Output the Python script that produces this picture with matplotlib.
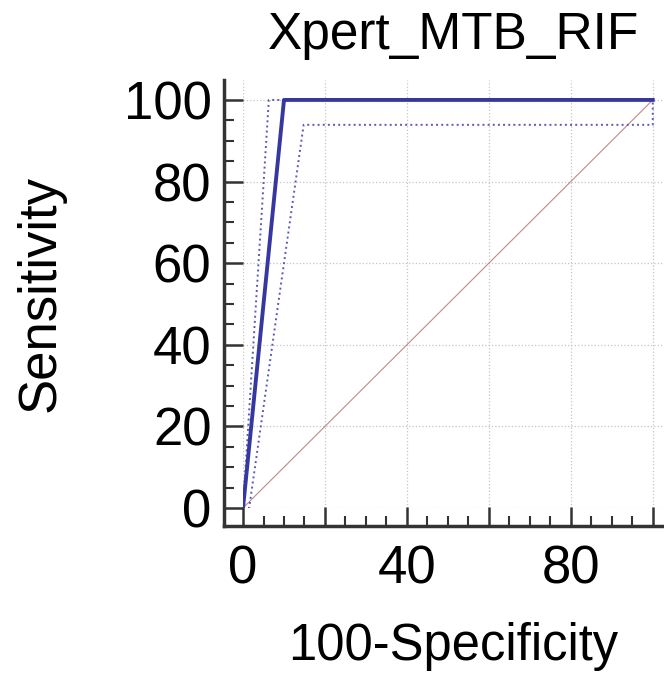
import matplotlib.pyplot as plt
from matplotlib.ticker import MultipleLocator

plt.rcParams['font.family'] = ['Liberation Sans', 'DejaVu Sans']

# ROC curve and confidence bounds (100-Specificity, Sensitivity)
roc_x = [0, 10, 100]
roc_y = [0, 100, 100]
upper_x = [0, 6.3, 100]
upper_y = [0, 100, 100]
lower_x = [0, 1.5, 14.8, 100, 100]
lower_y = [0, 0, 93.9, 93.9, 100]
diag = [0, 100]

fig = plt.figure(figsize=(6.64, 6.73), dpi=100)
ax = fig.add_axes([0.366, 0.2452, 0.6325, 0.636])

ax.plot(diag, diag, color='#c48888', lw=0.8, zorder=2)
ax.plot(upper_x, upper_y, color='#5a5ab8', lw=1.4, ls=':', zorder=3)
ax.plot(lower_x, lower_y, color='#5a5ab8', lw=1.4, ls=':', zorder=3)
ax.plot(roc_x, roc_y, color='#3737a0', lw=2.8, zorder=4)

ax.set_xlim(0, 102.5)
ax.set_ylim(0, 104.9)

ax.xaxis.set_major_locator(MultipleLocator(20))
ax.xaxis.set_minor_locator(MultipleLocator(5))
ax.yaxis.set_major_locator(MultipleLocator(20))
ax.yaxis.set_minor_locator(MultipleLocator(5))
ax.set_xticks([0, 20, 40, 60, 80, 100])
ax.set_xticklabels(['0', '', '40', '', '80', ''])

ax.grid(True, which='major', color='#c4c4c4', ls=':', lw=0.9)

for s in ['top', 'right']:
    ax.spines[s].set_visible(False)
ax.spines['left'].set_position(('outward', 13.7))
ax.spines['bottom'].set_position(('outward', 13.0))
ax.spines['left'].set_bounds(-4.4, 104.9)
ax.spines['bottom'].set_bounds(-4.6, 102.5)
for s in ['left', 'bottom']:
    ax.spines[s].set_linewidth(2.5)
    ax.spines[s].set_color('#333333')

ax.tick_params(which='major', direction='in', length=13.7, width=1.8,
               color='#333333', labelsize=38)
ax.tick_params(axis='x', which='major', pad=13)
ax.tick_params(axis='y', which='major', pad=9)
ax.tick_params(which='minor', direction='in', length=7, width=1.5,
               color='#333333')

ax.set_title('Xpert_MTB_RIF', fontsize=37, pad=22)
ax.set_xlabel('100-Specificity', fontsize=36.5, labelpad=20)
ax.set_ylabel('Sensitivity', fontsize=38, labelpad=42)

fig.savefig('out.png', dpi=100)
